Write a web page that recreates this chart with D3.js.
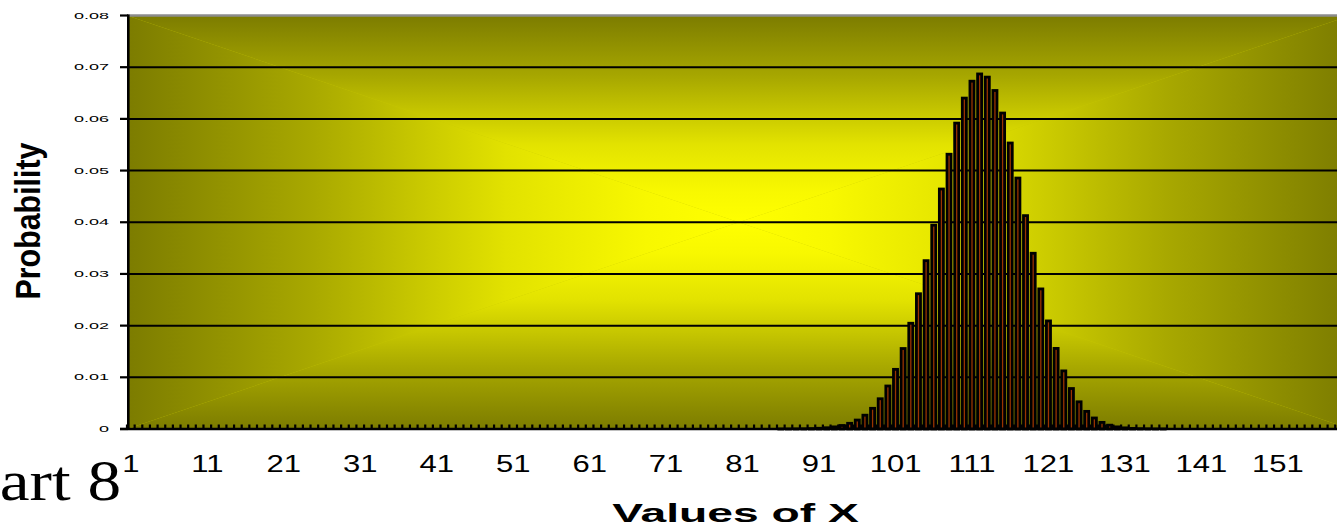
<!DOCTYPE html>
<html>
<head>
<meta charset="utf-8">
<script src="https://cdn.jsdelivr.net/npm/d3@7/dist/d3.min.js"></script>
<style>
  html, body { margin: 0; padding: 0; background: #fff; overflow: hidden; }
  svg { display: block; }
</style>
</head>
<body>
<svg id="chart" width="1337" height="528"></svg>
<script>
// Values of X: 1 .. 160
const categories = d3.range(1, 161);

// Probability of each value of X (rows of ten, X = 1..160)
const probabilities = [
  0, 0, 0, 0, 0, 0, 0, 0, 0, 0,                                              // 1-10
  0, 0, 0, 0, 0, 0, 0, 0, 0, 0,                                              // 11-20
  0, 0, 0, 0, 0, 0, 0, 0, 0, 0,                                              // 21-30
  0, 0, 0, 0, 0, 0, 0, 0, 0, 0,                                              // 31-40
  0, 0, 0, 0, 0, 0, 0, 0, 0, 0,                                              // 41-50
  0, 0, 0, 0, 0, 0, 0, 0, 0, 0,                                              // 51-60
  0, 0, 0, 0, 0, 0, 0, 0, 0, 0,                                              // 61-70
  0, 0, 0, 0, 0, 0, 0, 0, 0, 0,                                              // 71-80
  0, 0, 0, 0, 0, 0.00001, 0.00001, 0.00002, 0.00004, 0.00008,                // 81-90
  0.00014, 0.00024, 0.00041, 0.00068, 0.00110, 0.00173, 0.00267, 0.00400, 0.00585, 0.00832, // 91-100
  0.01154, 0.01557, 0.02046, 0.02617, 0.03257, 0.03943, 0.04643, 0.05316, 0.05918, 0.06402, // 101-110
  0.06729, 0.06869, 0.06808, 0.06549, 0.06113, 0.05533, 0.04855, 0.04128, 0.03400, 0.02710, // 111-120
  0.02091, 0.01559, 0.01124, 0.00783, 0.00526, 0.00341, 0.00213, 0.00128, 0.00074, 0.00041, // 121-130
  0.00022, 0.00011, 0.00006, 0.00003, 0.00001, 0.00001, 0, 0, 0, 0,          // 131-140
  0, 0, 0, 0, 0, 0, 0, 0, 0, 0,                                              // 141-150
  0, 0, 0, 0, 0, 0, 0, 0, 0, 0                                               // 151-160
];

const yTicks = [0, 0.01, 0.02, 0.03, 0.04, 0.05, 0.06, 0.07, 0.08];
const xTickLabels = [1, 11, 21, 31, 41, 51, 61, 71, 81, 91, 101, 111, 121, 131, 141, 151];

const xTitle = "Values of X";
const yTitle = "Probability";
const slideTitle = "Chart 8";

const svg = d3.select("#chart");

// Scales
const plotStart = 127;
const step = 7.647;
const x = d3.scaleBand()
  .domain(categories)
  .range([plotStart, plotStart + categories.length * step])
  .paddingInner(0).paddingOuter(0);
const y = d3.scaleLinear().domain([0, 0.08]).range([429, 15.5]);

const pLeft = x.range()[0], pRight = x.range()[1];
const pTop = y(0.08), pBottom = y(0);
const cx = (pLeft + pRight) / 2, cy = (pTop + pBottom) / 2;

// Plot area background: rectangular gradient from olive edges to a yellow centre
const gradStops = [
  [0, "#7c7c00"], [0.3, "#a8a800"], [0.62, "#e2e200"], [0.85, "#f8f800"], [1, "#ffff00"]
];
const defs = svg.append("defs");
const grads = [
  { id: "gTop",    x1: 0, y1: pTop,    x2: 0, y2: cy, pts: [[pLeft, pTop], [pRight, pTop], [cx, cy]] },
  { id: "gBottom", x1: 0, y1: pBottom, x2: 0, y2: cy, pts: [[pLeft, pBottom], [pRight, pBottom], [cx, cy]] },
  { id: "gLeft",   x1: pLeft,  y1: 0, x2: cx, y2: 0, pts: [[pLeft, pTop], [pLeft, pBottom], [cx, cy]] },
  { id: "gRight",  x1: pRight, y1: 0, x2: cx, y2: 0, pts: [[pRight, pTop], [pRight, pBottom], [cx, cy]] }
];
grads.forEach(g => {
  const lg = defs.append("linearGradient").attr("id", g.id)
    .attr("gradientUnits", "userSpaceOnUse")
    .attr("x1", g.x1).attr("y1", g.y1).attr("x2", g.x2).attr("y2", g.y2);
  gradStops.forEach(([o, c]) => lg.append("stop").attr("offset", o).attr("stop-color", c));
});

const bg = svg.append("g");
bg.append("rect").attr("x", pLeft).attr("y", pTop)
  .attr("width", pRight - pLeft).attr("height", pBottom - pTop)
  .attr("fill", "#c8c800");
bg.selectAll("polygon").data(grads).join("polygon")
  .attr("points", d => d.pts.map(p => p.join(",")).join(" "))
  .attr("fill", d => `url(#${d.id})`);

// Horizontal gridlines
svg.append("g").selectAll("line")
  .data(yTicks.filter(t => t > 0 && t < 0.08))
  .join("line")
  .attr("x1", pLeft).attr("x2", pRight)
  .attr("y1", d => y(d)).attr("y2", d => y(d))
  .attr("stroke", "#000").attr("stroke-width", 2);

// Top border of the plot area
svg.append("line")
  .attr("x1", pLeft).attr("x2", pRight).attr("y1", pTop).attr("y2", pTop)
  .attr("stroke", "#8c8c8c").attr("stroke-width", 2.6);

// Bars: rust fill inside a heavy black border
const barOuter = x.bandwidth() * 0.9;
const border = 2.8;
svg.append("g").selectAll("rect")
  .data(categories.map((c, i) => ({ c, v: probabilities[i] })))
  .join("rect")
  .attr("x", d => x(d.c) + (x.bandwidth() - barOuter) / 2 + border / 2)
  .attr("width", barOuter - border)
  .attr("y", d => y(d.v))
  .attr("height", d => y(0) - y(d.v))
  .attr("fill", "#993300")
  .attr("stroke", "#000")
  .attr("stroke-width", border);

// Category axis: line and short inside tick marks between categories
svg.append("line")
  .attr("x1", 120).attr("x2", pRight).attr("y1", pBottom).attr("y2", pBottom)
  .attr("stroke", "#000").attr("stroke-width", 2.4);
svg.append("g").selectAll("line")
  .data(categories)
  .join("line")
  .attr("x1", d => x(d)).attr("x2", d => x(d))
  .attr("y1", pBottom).attr("y2", pBottom - 4.5)
  .attr("stroke", "#000").attr("stroke-width", 2.2);

// Value axis: line, outside ticks and labels
svg.append("line")
  .attr("x1", pLeft + 1.3).attr("x2", pLeft + 1.3).attr("y1", pTop - 1).attr("y2", pBottom + 1)
  .attr("stroke", "#000").attr("stroke-width", 2.6);
svg.append("g").selectAll("line")
  .data(yTicks)
  .join("line")
  .attr("x1", 120).attr("x2", pLeft + 1)
  .attr("y1", d => y(d)).attr("y2", d => y(d))
  .attr("stroke", "#000").attr("stroke-width", 2.2);

const fmt = d3.format(".2f");
svg.append("g").selectAll("text")
  .data(yTicks)
  .join("text")
  .attr("transform", d => `translate(109,${y(d)}) scale(2,1)`)
  .attr("dy", "0.35em")
  .attr("text-anchor", "end")
  .attr("font-family", "Liberation Sans, Arial, sans-serif")
  .attr("font-size", 9)
  .attr("fill", "#000")
  .text(d => d === 0 ? "0" : fmt(d));

// Category labels
svg.append("g").selectAll("text")
  .data(xTickLabels)
  .join("text")
  .attr("transform", d => `translate(${x(d) + x.bandwidth() / 2},472) scale(1.35,1)`)
  .attr("text-anchor", "middle")
  .attr("font-family", "Liberation Sans, Arial, sans-serif")
  .attr("font-size", 23)
  .attr("fill", "#000")
  .text(d => d);

// Axis titles
svg.append("text")
  .attr("transform", "translate(735.5,522) scale(1.85,1)")
  .attr("text-anchor", "middle")
  .attr("font-family", "Liberation Sans, Arial, sans-serif")
  .attr("font-weight", "bold")
  .attr("font-size", 25)
  .attr("fill", "#000")
  .text(xTitle);

svg.append("text")
  .attr("transform", "translate(40,221) rotate(-90) scale(0.95,1.12)")
  .attr("text-anchor", "middle")
  .attr("font-family", "Liberation Sans, Arial, sans-serif")
  .attr("font-weight", "bold")
  .attr("font-size", 32)
  .attr("fill", "#000")
  .text(yTitle);

// Slide caption in the lower-left corner
svg.append("text")
  .attr("transform", "translate(121,500) scale(1.2,1)")
  .attr("text-anchor", "end")
  .attr("font-family", "Liberation Serif, Times New Roman, serif")
  .attr("font-size", 56)
  .attr("fill", "#000")
  .text(slideTitle);
</script>
</body>
</html>
